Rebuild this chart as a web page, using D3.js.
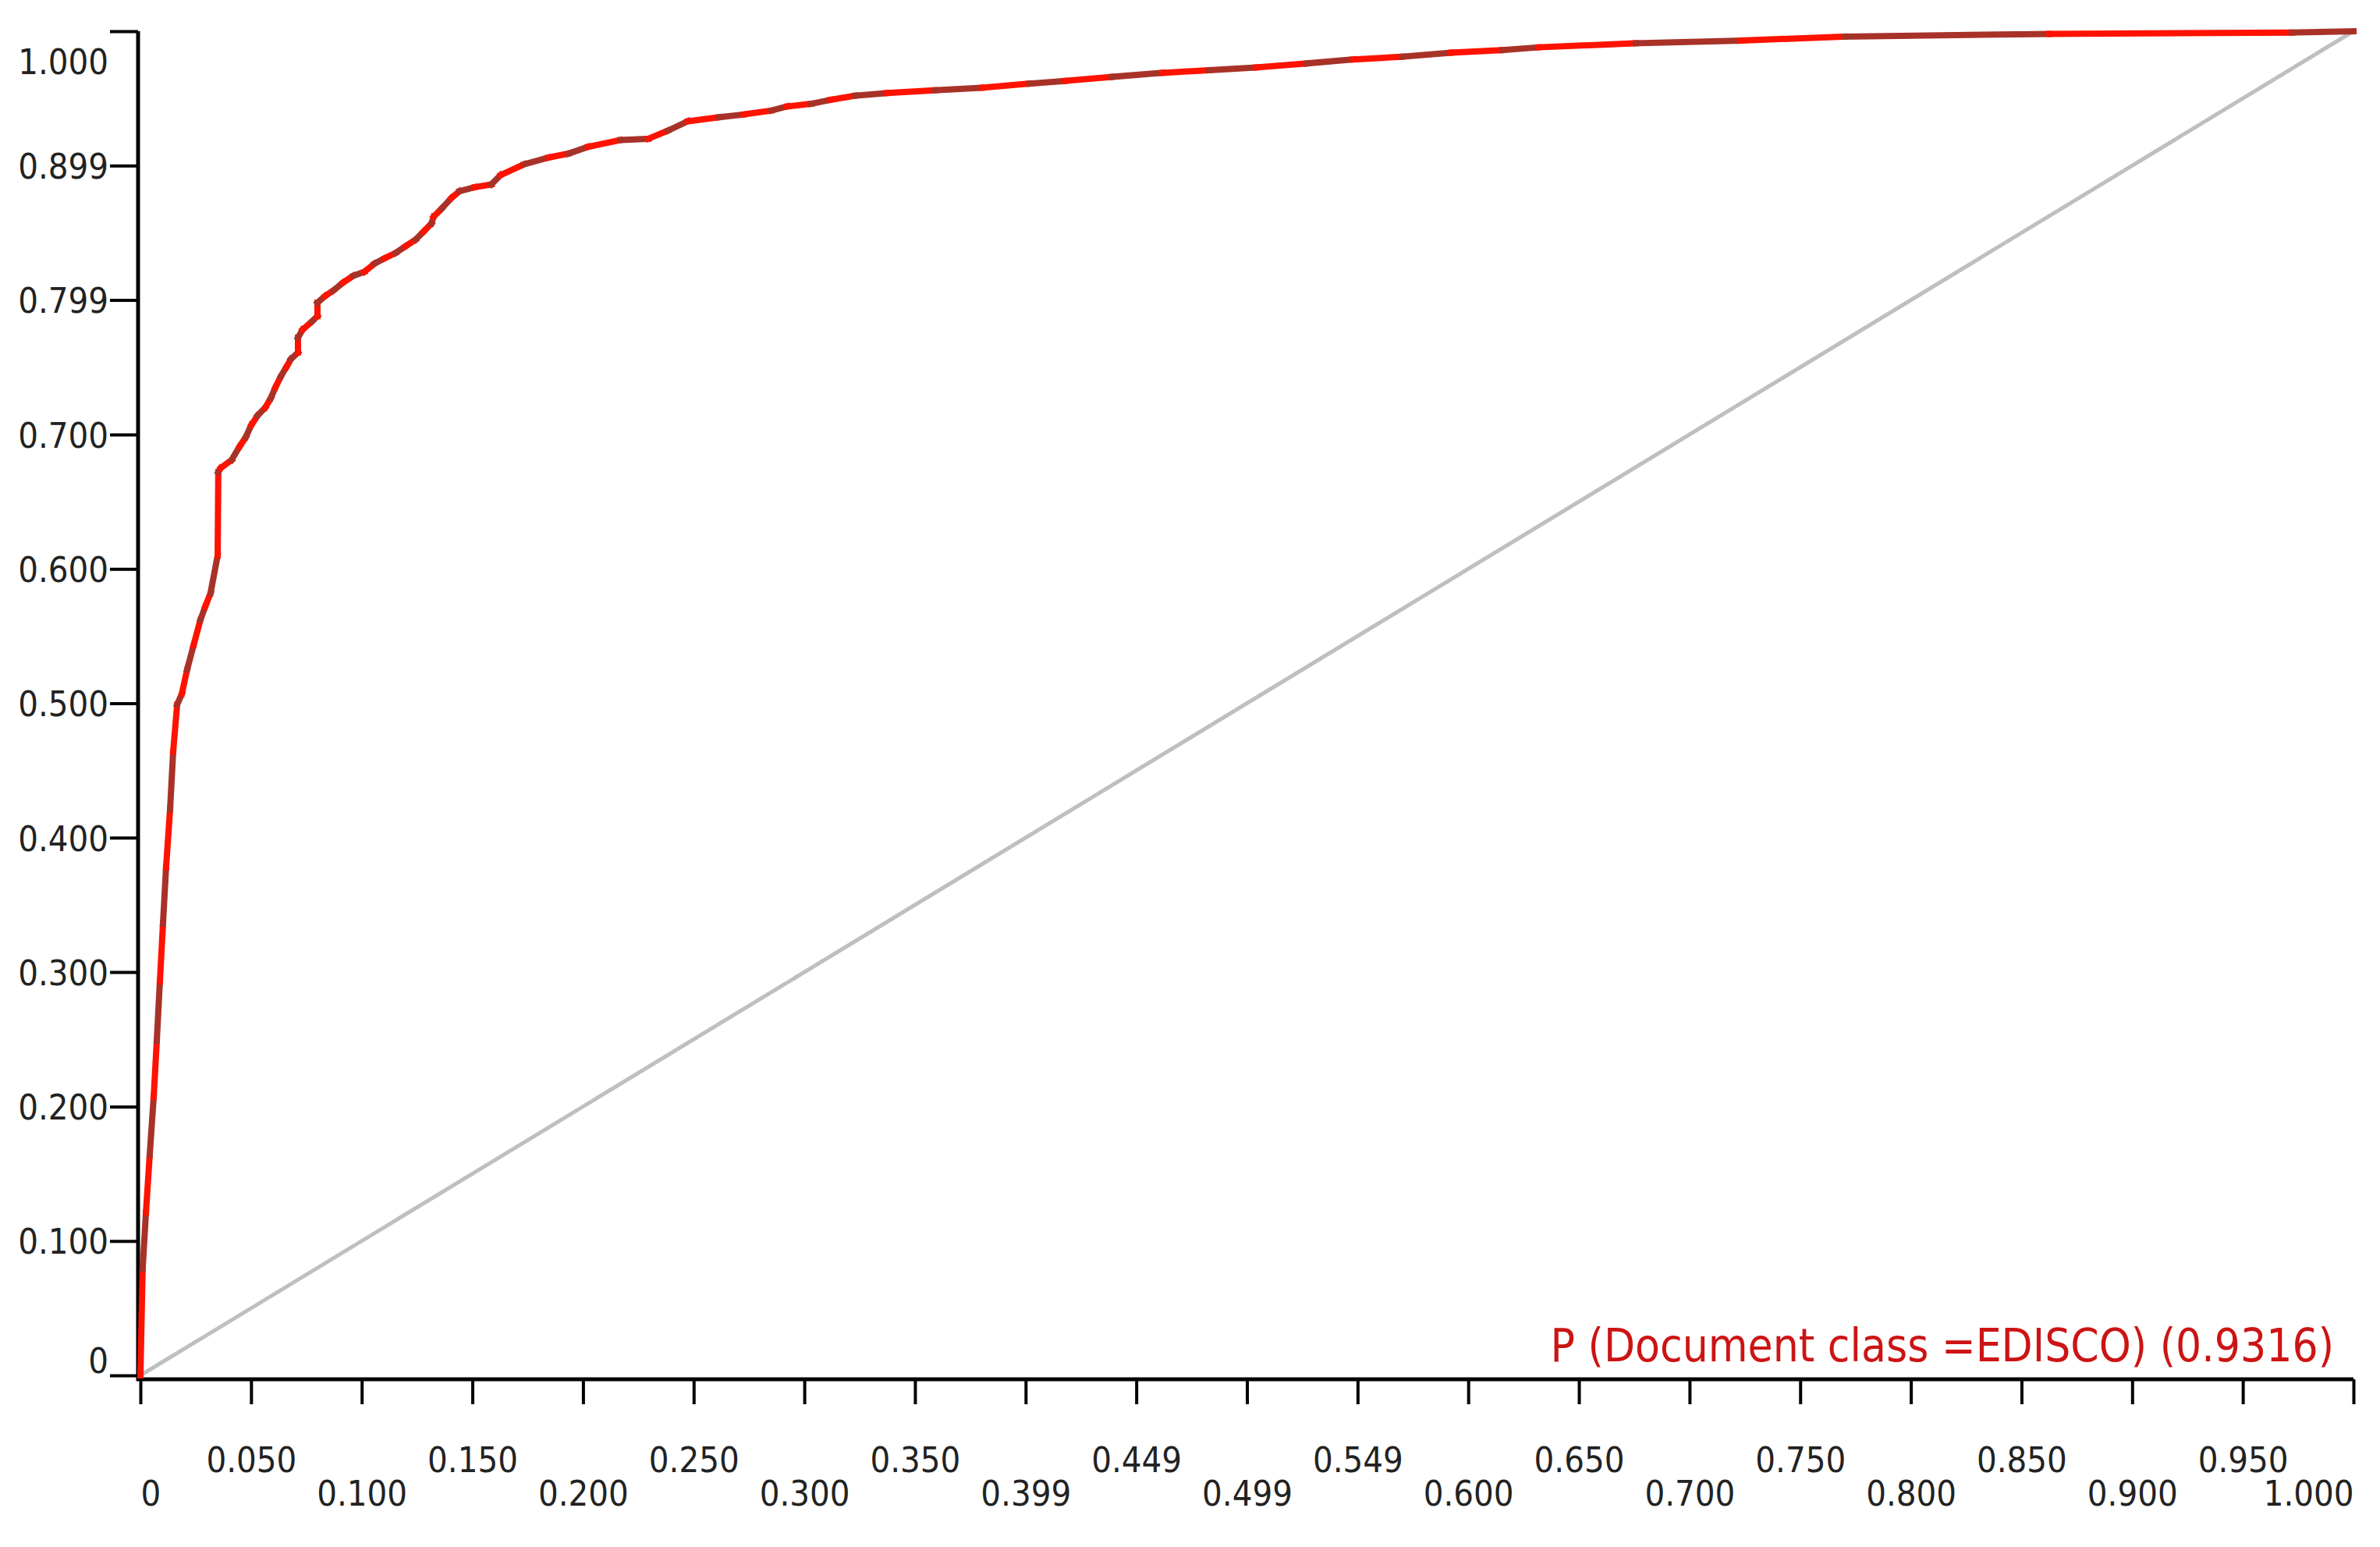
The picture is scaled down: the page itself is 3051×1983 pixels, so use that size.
<!DOCTYPE html>
<html>
<head>
<meta charset="utf-8">
<script src="https://cdn.jsdelivr.net/npm/d3@7/dist/d3.min.js"></script>
<style>
  html, body { margin: 0; padding: 0; background: #fff; }
  svg { display: block; }
</style>
</head>
<body>
<svg id="roc"></svg>
<script>
// ROC curve points
const fpr = [0, 0.001, 0.0025, 0.0042, 0.006, 0.0074, 0.0088, 0.0102, 0.0116, 0.0134,
  0.0148, 0.0166, 0.0187, 0.0211, 0.024, 0.0271, 0.0293, 0.0317, 0.0349, 0.0352,
  0.0363, 0.0412, 0.0448, 0.0476, 0.0501, 0.0529, 0.0564, 0.0589, 0.061, 0.0634,
  0.0659, 0.068, 0.0712, 0.0712, 0.0733, 0.0775, 0.080, 0.080, 0.0835, 0.0871,
  0.0916, 0.0962, 0.1012, 0.1057, 0.1103, 0.1153, 0.1198, 0.1244, 0.128, 0.1315,
  0.1325, 0.1361, 0.1406, 0.1442, 0.1512, 0.1586, 0.1628, 0.1734, 0.1844, 0.1935,
  0.2023, 0.2168, 0.2295, 0.2383, 0.2474, 0.2615, 0.2725, 0.2852, 0.2922, 0.3031,
  0.3119, 0.3229, 0.3373, 0.3588, 0.3803, 0.4018, 0.4177, 0.4388, 0.4618, 0.4829,
  0.5041, 0.527, 0.5481, 0.570, 0.5922, 0.6154, 0.6317, 0.6757, 0.7229, 0.7702,
  0.8625, 0.9722, 1.0];
const tpr = [0, 0.079, 0.121, 0.164, 0.207, 0.249, 0.293, 0.336, 0.378, 0.421,
  0.464, 0.499, 0.507, 0.525, 0.543, 0.562, 0.572, 0.582, 0.610, 0.672,
  0.675, 0.681, 0.691, 0.698, 0.707, 0.714, 0.720, 0.727, 0.735, 0.743,
  0.750, 0.756, 0.761, 0.772, 0.778, 0.784, 0.788, 0.798, 0.803, 0.807,
  0.813, 0.818, 0.821, 0.827, 0.831, 0.835, 0.840, 0.845, 0.851, 0.857,
  0.862, 0.868, 0.876, 0.881, 0.884, 0.886, 0.893, 0.901, 0.906, 0.909,
  0.914, 0.919, 0.920, 0.926, 0.933, 0.936, 0.938, 0.941, 0.944, 0.946,
  0.949, 0.952, 0.954, 0.956, 0.958, 0.961, 0.963, 0.966, 0.969, 0.971,
  0.973, 0.976, 0.979, 0.981, 0.984, 0.986, 0.988, 0.991, 0.993, 0.996,
  0.998, 0.999, 1.0];

const yTickValues = [0, 0.1, 0.2, 0.3, 0.4, 0.5, 0.6, 0.7, 0.8, 0.9, 1.0];
const yTickLabels = ["0", "0.100", "0.200", "0.300", "0.400", "0.500", "0.600", "0.700", "0.799", "0.899", "1.000"];

const xTickValues = [0, 0.05, 0.1, 0.15, 0.2, 0.25, 0.3, 0.35, 0.4, 0.45, 0.5,
  0.55, 0.6, 0.65, 0.7, 0.75, 0.8, 0.85, 0.9, 0.95, 1.0];
const xTickLabels = ["0", "0.050", "0.100", "0.150", "0.200", "0.250", "0.300", "0.350", "0.399", "0.449", "0.499",
  "0.549", "0.600", "0.650", "0.700", "0.750", "0.800", "0.850", "0.900", "0.950", "1.000"];

const legendText = "P (Document class =EDISCO) (0.9316)";

let width = 3051, height = 1983;
let font = "'DejaVu Sans Condensed', 'DejaVu Sans', sans-serif";
let segColors = ["#ff1200", "#a83228"];

let svg = d3.select("#roc")
    .attr("width", width)
    .attr("height", height);

let x = d3.scaleLinear().domain([0, 1]).range([180, 3017]);
let y = d3.scaleLinear().domain([0, 1]).range([1763, 40]);
let axisY = 1768, axisX = 177;

// chance diagonal
svg.append("line")
    .attr("x1", x(0)).attr("y1", y(0))
    .attr("x2", x(1)).attr("y2", y(1))
    .style("stroke", "#bfbfbf")
    .style("stroke-width", 5);

// y axis
let yAxis = svg.append("g")
    .attr("transform", "translate(" + axisX + ",0)")
    .call(d3.axisLeft(y)
        .tickValues(yTickValues)
        .tickFormat((d, i) => yTickLabels[i])
        .tickSize(36)
        .tickSizeOuter(0));
yAxis.select(".domain").remove();
yAxis.selectAll(".tick line").style("stroke", "#000").style("stroke-width", 4);
yAxis.selectAll(".tick text")
    .attr("x", -38)
    .attr("dy", (d, i) => i === 0 ? "-0.07em" : (i === yTickValues.length - 1 ? "1.2em" : "0.36em"))
    .style("font-family", font)
    .style("font-size", "45px")
    .style("fill", "#222");

// x axis
let xAxis = svg.append("g")
    .attr("transform", "translate(0," + axisY + ")")
    .call(d3.axisBottom(x)
        .tickValues(xTickValues)
        .tickFormat((d, i) => xTickLabels[i])
        .tickSize(32)
        .tickSizeOuter(0));
xAxis.select(".domain").remove();
xAxis.selectAll(".tick line").style("stroke", "#000").style("stroke-width", 4);
xAxis.selectAll(".tick text")
    .attr("y", (d, i) => i % 2 === 1 ? 103 : 146)
    .attr("dy", "0.36em")
    .attr("text-anchor", (d, i) => i === 0 ? "start" : (i === xTickValues.length - 1 ? "end" : "middle"))
    .style("font-family", font)
    .style("font-size", "45px")
    .style("fill", "#222");

// axis lines
svg.append("line")
    .attr("x1", axisX).attr("y1", y(1))
    .attr("x2", axisX).attr("y2", axisY + 2)
    .style("stroke", "#000").style("stroke-width", 5);
svg.append("line")
    .attr("x1", axisX - 2).attr("y1", axisY)
    .attr("x2", x(1)).attr("y2", axisY)
    .style("stroke", "#000").style("stroke-width", 5);

// ROC curve drawn as alternating coloured segments
let pts = fpr.map((d, i) => [x(d), y(tpr[i])]);
let segs = d3.pairs(pts);
let line = d3.line();
svg.append("g")
    .selectAll("path")
    .data(segs)
    .enter()
    .append("path")
    .attr("d", d => line(d))
    .style("fill", "none")
    .style("stroke", (d, i) => segColors[i % 2])
    .style("stroke-width", 8)
    .style("stroke-linecap", "square");

// legend
svg.append("text")
    .attr("x", 2992)
    .attr("y", 1745)
    .attr("text-anchor", "end")
    .style("font-family", font)
    .style("font-size", "58px")
    .style("fill", "#cc1414")
    .text(legendText);
</script>
</body>
</html>
